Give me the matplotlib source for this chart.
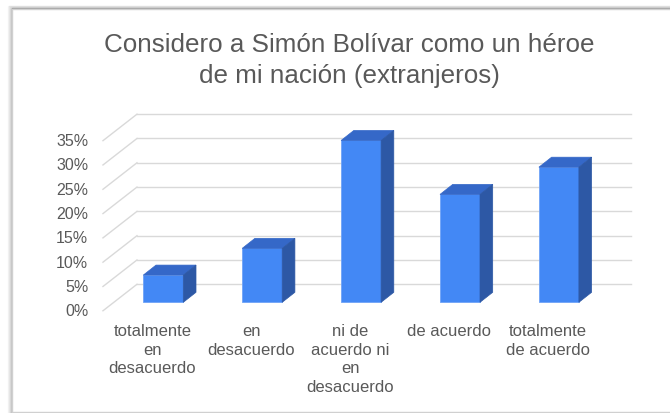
import matplotlib
matplotlib.use("Agg")
import matplotlib.pyplot as plt
from matplotlib.patches import Polygon, Rectangle
import numpy as np

categories = ["totalmente\nen\ndesacuerdo", "en\ndesacuerdo", "ni de\nacuerdo ni\nen\ndesacuerdo",
              "de acuerdo", "totalmente\nde acuerdo"]
values = [5.6, 11.1, 33.3, 22.2, 27.8]
yticks = [0, 5, 10, 15, 20, 25, 30, 35]
ytick_labels = ["0%", "5%", "10%", "15%", "20%", "25%", "30%", "35%"]
title_lines = ["Considero a Simón Bolívar como un héroe", "de mi nación (extranjeros)"]

W, H = 670, 414
fig = plt.figure(figsize=(W / 100, H / 100), dpi=100)
fig.patch.set_facecolor("white")

# chart frame with soft shadow
for i, a in enumerate([0.04, 0.07, 0.11, 0.16, 0.22]):
    off = 5 - i
    fig.patches.append(Rectangle(((12.5 - off) / W, (H - 413 - off * 0.3) / H), 700 / W, (403 + off) / H,
                                 transform=fig.transFigure, facecolor="none",
                                 edgecolor=(0, 0, 0, a), linewidth=1.0, zorder=0))
fig.patches.append(Rectangle((12.5 / W, (H - 413) / H), 700 / W, 403 / H,
                             transform=fig.transFigure, facecolor="white",
                             edgecolor="#D0D0D0", linewidth=1.0, zorder=0.5))

# axes mapping: x = category index, y = percent at bar front plane
px_per_cat = 98.9
x0_px = 163.3
px_per_pct = 4.86
y0_px = 303.3
ax = fig.add_axes([0, 0, 1, 1])
ax.set_zorder(2)
ax.set_xlim(-x0_px / px_per_cat, (W - x0_px) / px_per_cat)
ax.set_ylim((y0_px - H) / px_per_pct, y0_px / px_per_pct)
ax.axis("off")
ax.patch.set_alpha(0)

# oblique depth (in data units)
floor_dx, floor_dy = 34 / px_per_cat, 26.5 / px_per_pct
front_f = 0.32
fdx, fdy = -front_f * floor_dx, -front_f * floor_dy          # front plane offset
bdx_back, bdy_back = (1 - front_f) * floor_dx, (1 - front_f) * floor_dy  # back plane offset
bar_dx, bar_dy = 12.7 / px_per_cat, 10 / px_per_pct
bar_w = 40 / px_per_cat
n = len(categories)
left, right = -0.5, n - 0.5

grid_c = "#D9D9D9"
text_c = "#595959"
for t in yticks:
    ax.plot([left + bdx_back, right + bdx_back], [t + bdy_back, t + bdy_back],
            color=grid_c, lw=1.0, zorder=1)
    ax.plot([left + fdx, left + bdx_back], [t + fdy, t + bdy_back],
            color=grid_c, lw=1.0, zorder=1)

for t, lab in zip(yticks, ytick_labels):
    ax.text(left + fdx - 0.15, t + fdy, lab, ha="right", va="center",
            fontsize=11.5, color=text_c, family="Liberation Sans")

xs = np.arange(n)
front_c = "#4388F5"
top_c = "#3568C8"
side_c = "#2D58A5"
ax.bar(xs, values, width=bar_w, color=front_c, edgecolor="#6FA3F7", linewidth=0.6, zorder=3)
for x, v in zip(xs, values):
    xl, xr = x - bar_w / 2, x + bar_w / 2
    top = Polygon([(xl, v), (xr, v), (xr + bar_dx, v + bar_dy), (xl + bar_dx, v + bar_dy)],
                  closed=True, facecolor=top_c, edgecolor=top_c, lw=0.5, zorder=3)
    side = Polygon([(xr, 0), (xr + bar_dx, bar_dy), (xr + bar_dx, v + bar_dy), (xr, v)],
                   closed=True, facecolor=side_c, edgecolor=side_c, lw=0.5, zorder=3)
    ax.add_patch(top)
    ax.add_patch(side)

label_top = (y0_px - 324) / px_per_pct
for x, lab in zip(xs, categories):
    ax.text(x + fdx, label_top, lab, ha="center", va="top", fontsize=12,
            color=text_c, family="Liberation Sans", linespacing=1.3)

fig.text(349.5 / W, 1 - 51.7 / H, title_lines[0], ha="center", va="baseline",
         fontsize=18.7, color=text_c, family="Liberation Sans")
fig.text(349.5 / W, 1 - 82.7 / H, title_lines[1], ha="center", va="baseline",
         fontsize=18.7, color=text_c, family="Liberation Sans")

fig.savefig("out.png", dpi=100, facecolor="white")
